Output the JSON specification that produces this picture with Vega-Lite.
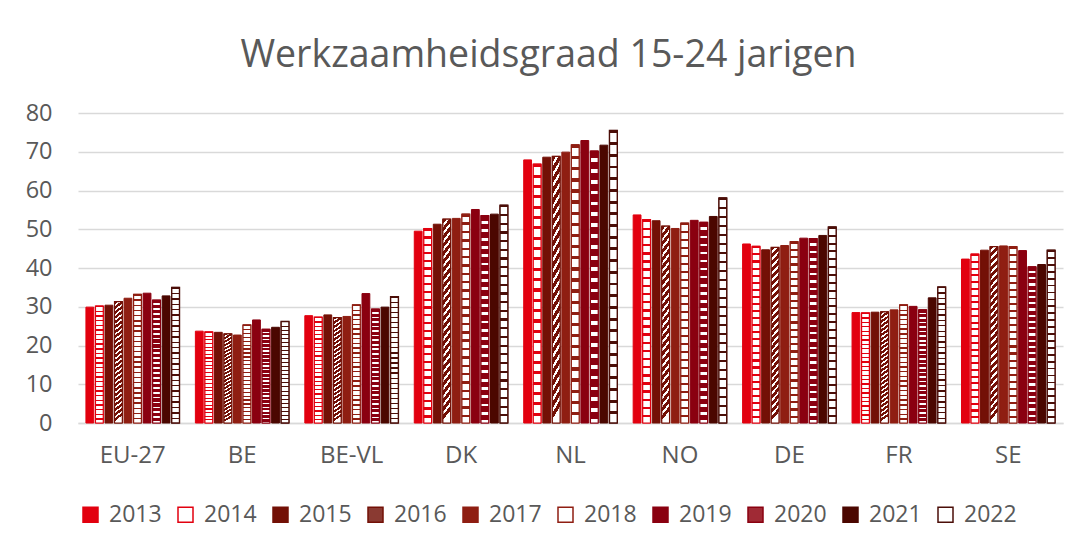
{
  "$schema": "https://vega.github.io/schema/vega-lite/v6.json",
  "width": 985,
  "height": 310,
  "autosize": {"type": "none"},
  "padding": {"left": 78, "top": 113, "right": 11, "bottom": 124},
  "background": "white",
  "title": {"text": "Werkzaamheidsgraad 15-24 jarigen", "font": "Open Sans", "fontSize": 37.5, "fontWeight": "normal", "color": "#595959", "anchor": "middle", "dx": -22, "offset": 27},
  "data": {"values": [
    {"land": "EU-27", "jaar": "2013", "waarde": 29.9}, {"land": "EU-27", "jaar": "2014", "waarde": 30.2}, {"land": "EU-27", "jaar": "2015", "waarde": 30.4}, {"land": "EU-27", "jaar": "2016", "waarde": 31.3}, {"land": "EU-27", "jaar": "2017", "waarde": 32.2}, {"land": "EU-27", "jaar": "2018", "waarde": 33.2}, {"land": "EU-27", "jaar": "2019", "waarde": 33.5}, {"land": "EU-27", "jaar": "2020", "waarde": 31.7}, {"land": "EU-27", "jaar": "2021", "waarde": 32.8}, {"land": "EU-27", "jaar": "2022", "waarde": 35.0},
    {"land": "BE", "jaar": "2013", "waarde": 23.7}, {"land": "BE", "jaar": "2014", "waarde": 23.5}, {"land": "BE", "jaar": "2015", "waarde": 23.4}, {"land": "BE", "jaar": "2016", "waarde": 23.0}, {"land": "BE", "jaar": "2017", "waarde": 22.7}, {"land": "BE", "jaar": "2018", "waarde": 25.3}, {"land": "BE", "jaar": "2019", "waarde": 26.6}, {"land": "BE", "jaar": "2020", "waarde": 24.2}, {"land": "BE", "jaar": "2021", "waarde": 24.7}, {"land": "BE", "jaar": "2022", "waarde": 26.2},
    {"land": "BE-VL", "jaar": "2013", "waarde": 27.7}, {"land": "BE-VL", "jaar": "2014", "waarde": 27.3}, {"land": "BE-VL", "jaar": "2015", "waarde": 27.9}, {"land": "BE-VL", "jaar": "2016", "waarde": 27.2}, {"land": "BE-VL", "jaar": "2017", "waarde": 27.5}, {"land": "BE-VL", "jaar": "2018", "waarde": 30.5}, {"land": "BE-VL", "jaar": "2019", "waarde": 33.4}, {"land": "BE-VL", "jaar": "2020", "waarde": 29.4}, {"land": "BE-VL", "jaar": "2021", "waarde": 29.9}, {"land": "BE-VL", "jaar": "2022", "waarde": 32.6},
    {"land": "DK", "jaar": "2013", "waarde": 49.5}, {"land": "DK", "jaar": "2014", "waarde": 50.2}, {"land": "DK", "jaar": "2015", "waarde": 51.3}, {"land": "DK", "jaar": "2016", "waarde": 52.6}, {"land": "DK", "jaar": "2017", "waarde": 52.8}, {"land": "DK", "jaar": "2018", "waarde": 53.9}, {"land": "DK", "jaar": "2019", "waarde": 55.1}, {"land": "DK", "jaar": "2020", "waarde": 53.5}, {"land": "DK", "jaar": "2021", "waarde": 53.9}, {"land": "DK", "jaar": "2022", "waarde": 56.2},
    {"land": "NL", "jaar": "2013", "waarde": 67.9}, {"land": "NL", "jaar": "2014", "waarde": 66.8}, {"land": "NL", "jaar": "2015", "waarde": 68.6}, {"land": "NL", "jaar": "2016", "waarde": 68.8}, {"land": "NL", "jaar": "2017", "waarde": 69.9}, {"land": "NL", "jaar": "2018", "waarde": 71.8}, {"land": "NL", "jaar": "2019", "waarde": 72.9}, {"land": "NL", "jaar": "2020", "waarde": 70.2}, {"land": "NL", "jaar": "2021", "waarde": 71.7}, {"land": "NL", "jaar": "2022", "waarde": 75.5},
    {"land": "NO", "jaar": "2013", "waarde": 53.7}, {"land": "NO", "jaar": "2014", "waarde": 52.5}, {"land": "NO", "jaar": "2015", "waarde": 52.2}, {"land": "NO", "jaar": "2016", "waarde": 50.8}, {"land": "NO", "jaar": "2017", "waarde": 50.2}, {"land": "NO", "jaar": "2018", "waarde": 51.6}, {"land": "NO", "jaar": "2019", "waarde": 52.3}, {"land": "NO", "jaar": "2020", "waarde": 51.8}, {"land": "NO", "jaar": "2021", "waarde": 53.3}, {"land": "NO", "jaar": "2022", "waarde": 58.1},
    {"land": "DE", "jaar": "2013", "waarde": 46.2}, {"land": "DE", "jaar": "2014", "waarde": 45.6}, {"land": "DE", "jaar": "2015", "waarde": 44.7}, {"land": "DE", "jaar": "2016", "waarde": 45.3}, {"land": "DE", "jaar": "2017", "waarde": 45.8}, {"land": "DE", "jaar": "2018", "waarde": 46.8}, {"land": "DE", "jaar": "2019", "waarde": 47.7}, {"land": "DE", "jaar": "2020", "waarde": 47.6}, {"land": "DE", "jaar": "2021", "waarde": 48.4}, {"land": "DE", "jaar": "2022", "waarde": 50.6},
    {"land": "FR", "jaar": "2013", "waarde": 28.5}, {"land": "FR", "jaar": "2014", "waarde": 28.4}, {"land": "FR", "jaar": "2015", "waarde": 28.6}, {"land": "FR", "jaar": "2016", "waarde": 28.7}, {"land": "FR", "jaar": "2017", "waarde": 29.2}, {"land": "FR", "jaar": "2018", "waarde": 30.5}, {"land": "FR", "jaar": "2019", "waarde": 30.1}, {"land": "FR", "jaar": "2020", "waarde": 29.2}, {"land": "FR", "jaar": "2021", "waarde": 32.3}, {"land": "FR", "jaar": "2022", "waarde": 35.1},
    {"land": "SE", "jaar": "2013", "waarde": 42.3}, {"land": "SE", "jaar": "2014", "waarde": 43.6}, {"land": "SE", "jaar": "2015", "waarde": 44.6}, {"land": "SE", "jaar": "2016", "waarde": 45.5}, {"land": "SE", "jaar": "2017", "waarde": 45.7}, {"land": "SE", "jaar": "2018", "waarde": 45.5}, {"land": "SE", "jaar": "2019", "waarde": 44.5}, {"land": "SE", "jaar": "2020", "waarde": 40.3}, {"land": "SE", "jaar": "2021", "waarde": 40.9}, {"land": "SE", "jaar": "2022", "waarde": 44.6}
  ]},
  "encoding": {
    "x": {"field": "land", "type": "nominal", "sort": ["EU-27", "BE", "BE-VL", "DK", "NL", "NO", "DE", "FR", "SE"], "scale": {"paddingInner": 0.145, "paddingOuter": 0.0725},
      "axis": {"title": null, "labelAngle": 0, "ticks": false, "domainColor": "#D9D9D9", "domainWidth": 1.5, "labelFont": "Open Sans", "labelFontSize": 24, "labelColor": "#595959", "labelPadding": 20}},
    "xOffset": {"field": "jaar", "type": "nominal", "scale": {"domain": ["2013","2014","2015","2016","2017","2018","2019","2020","2021","2022"], "paddingInner": 0.18, "paddingOuter": 0}},
    "y": {"field": "waarde", "type": "quantitative", "scale": {"domain": [0, 80], "nice": false},
      "axis": {"title": null, "values": [0, 10, 20, 30, 40, 50, 60, 70, 80], "domain": false, "ticks": false, "gridColor": "#D9D9D9", "gridWidth": 1.3, "labelFont": "Open Sans", "labelFontSize": 23.5, "labelColor": "#595959", "labelPadding": 26}}
  },
  "layer": [
    {
      "mark": {"type": "bar", "strokeWidth": 1},
      "encoding": {
        "fill": {"field": "jaar", "type": "nominal", "scale": {"domain": ["2013","2014","2015","2016","2017","2018","2019","2020","2021","2022"], "range": ["#E2000F","#FFFFFF","#731006","#8A3A32","#8F1E12","#FFFFFF","#8A0010","#A02A35","#4B0700","#FFFFFF"]},
          "legend": {"title": null, "orient": "none", "legendX": 1, "legendY": 390, "direction": "horizontal", "columns": 10, "symbolType": "square", "symbolSize": 225, "symbolStrokeWidth": 1.5, "labelFont": "Open Sans", "labelFontSize": 23, "labelColor": "#595959", "labelOffset": 7, "columnPadding": 12, "labelLimit": 200}},
        "stroke": {"field": "jaar", "type": "nominal", "scale": {"domain": ["2013","2014","2015","2016","2017","2018","2019","2020","2021","2022"], "range": ["#E2000F","#E2000F","#731006","#731006","#8F1E12","#8F1E12","#8A0010","#8A0010","#4B0700","#4B0E08"]},
          "legend": {"title": null, "orient": "none", "legendX": 1, "legendY": 390, "direction": "horizontal", "columns": 10, "symbolType": "square", "symbolSize": 225, "symbolStrokeWidth": 1.5, "labelFont": "Open Sans", "labelFontSize": 23, "labelColor": "#595959", "labelOffset": 7, "columnPadding": 12, "labelLimit": 200}}
      }
    },
    {
      "transform": [{"filter": "datum.jaar == '2014'"}],
      "mark": {"type": "bar", "stroke": "#E2000F", "strokeWidth": 1.2, "fill": {"gradient": "linear", "x1": 0, "y1": 0, "x2": 0, "y2": 1, "stops": [
        {"offset":0,"color":"#E2000F"},{"offset":0.012,"color":"#E2000F"},{"offset":0.012,"color":"#fff"},{"offset":0.04,"color":"#fff"},
        {"offset":0.04,"color":"#E2000F"},{"offset":0.052,"color":"#E2000F"},{"offset":0.052,"color":"#fff"},{"offset":0.08,"color":"#fff"},
        {"offset":0.08,"color":"#E2000F"},{"offset":0.092,"color":"#E2000F"},{"offset":0.092,"color":"#fff"},{"offset":0.12,"color":"#fff"},
        {"offset":0.12,"color":"#E2000F"},{"offset":0.132,"color":"#E2000F"},{"offset":0.132,"color":"#fff"},{"offset":0.16,"color":"#fff"},
        {"offset":0.16,"color":"#E2000F"},{"offset":0.172,"color":"#E2000F"},{"offset":0.172,"color":"#fff"},{"offset":0.2,"color":"#fff"},
        {"offset":0.2,"color":"#E2000F"},{"offset":0.212,"color":"#E2000F"},{"offset":0.212,"color":"#fff"},{"offset":0.24,"color":"#fff"},
        {"offset":0.24,"color":"#E2000F"},{"offset":0.252,"color":"#E2000F"},{"offset":0.252,"color":"#fff"},{"offset":0.28,"color":"#fff"},
        {"offset":0.28,"color":"#E2000F"},{"offset":0.292,"color":"#E2000F"},{"offset":0.292,"color":"#fff"},{"offset":0.32,"color":"#fff"},
        {"offset":0.32,"color":"#E2000F"},{"offset":0.332,"color":"#E2000F"},{"offset":0.332,"color":"#fff"},{"offset":0.36,"color":"#fff"},
        {"offset":0.36,"color":"#E2000F"},{"offset":0.372,"color":"#E2000F"},{"offset":0.372,"color":"#fff"},{"offset":0.4,"color":"#fff"},
        {"offset":0.4,"color":"#E2000F"},{"offset":0.412,"color":"#E2000F"},{"offset":0.412,"color":"#fff"},{"offset":0.44,"color":"#fff"},
        {"offset":0.44,"color":"#E2000F"},{"offset":0.452,"color":"#E2000F"},{"offset":0.452,"color":"#fff"},{"offset":0.48,"color":"#fff"},
        {"offset":0.48,"color":"#E2000F"},{"offset":0.492,"color":"#E2000F"},{"offset":0.492,"color":"#fff"},{"offset":0.52,"color":"#fff"},
        {"offset":0.52,"color":"#E2000F"},{"offset":0.532,"color":"#E2000F"},{"offset":0.532,"color":"#fff"},{"offset":0.56,"color":"#fff"},
        {"offset":0.56,"color":"#E2000F"},{"offset":0.572,"color":"#E2000F"},{"offset":0.572,"color":"#fff"},{"offset":0.6,"color":"#fff"},
        {"offset":0.6,"color":"#E2000F"},{"offset":0.612,"color":"#E2000F"},{"offset":0.612,"color":"#fff"},{"offset":0.64,"color":"#fff"},
        {"offset":0.64,"color":"#E2000F"},{"offset":0.652,"color":"#E2000F"},{"offset":0.652,"color":"#fff"},{"offset":0.68,"color":"#fff"},
        {"offset":0.68,"color":"#E2000F"},{"offset":0.692,"color":"#E2000F"},{"offset":0.692,"color":"#fff"},{"offset":0.72,"color":"#fff"},
        {"offset":0.72,"color":"#E2000F"},{"offset":0.732,"color":"#E2000F"},{"offset":0.732,"color":"#fff"},{"offset":0.76,"color":"#fff"},
        {"offset":0.76,"color":"#E2000F"},{"offset":0.772,"color":"#E2000F"},{"offset":0.772,"color":"#fff"},{"offset":0.8,"color":"#fff"},
        {"offset":0.8,"color":"#E2000F"},{"offset":0.812,"color":"#E2000F"},{"offset":0.812,"color":"#fff"},{"offset":0.84,"color":"#fff"},
        {"offset":0.84,"color":"#E2000F"},{"offset":0.852,"color":"#E2000F"},{"offset":0.852,"color":"#fff"},{"offset":0.88,"color":"#fff"},
        {"offset":0.88,"color":"#E2000F"},{"offset":0.892,"color":"#E2000F"},{"offset":0.892,"color":"#fff"},{"offset":0.92,"color":"#fff"},
        {"offset":0.92,"color":"#E2000F"},{"offset":0.932,"color":"#E2000F"},{"offset":0.932,"color":"#fff"},{"offset":0.96,"color":"#fff"},
        {"offset":0.96,"color":"#E2000F"},{"offset":0.972,"color":"#E2000F"},{"offset":0.972,"color":"#fff"},{"offset":1,"color":"#fff"}
      ]}}
    },
    {
      "transform": [{"filter": "datum.jaar == '2016'"}],
      "mark": {"type": "bar", "stroke": "#731006", "strokeWidth": 1.2, "fill": {"gradient": "linear", "x1": 0, "y1": 0, "x2": 0.05, "y2": 1, "stops": [
        {"offset":0,"color":"#731006"},{"offset":0.024,"color":"#731006"},{"offset":0.024,"color":"#fff"},{"offset":0.04,"color":"#fff"},
        {"offset":0.04,"color":"#731006"},{"offset":0.064,"color":"#731006"},{"offset":0.064,"color":"#fff"},{"offset":0.08,"color":"#fff"},
        {"offset":0.08,"color":"#731006"},{"offset":0.104,"color":"#731006"},{"offset":0.104,"color":"#fff"},{"offset":0.12,"color":"#fff"},
        {"offset":0.12,"color":"#731006"},{"offset":0.144,"color":"#731006"},{"offset":0.144,"color":"#fff"},{"offset":0.16,"color":"#fff"},
        {"offset":0.16,"color":"#731006"},{"offset":0.184,"color":"#731006"},{"offset":0.184,"color":"#fff"},{"offset":0.2,"color":"#fff"},
        {"offset":0.2,"color":"#731006"},{"offset":0.224,"color":"#731006"},{"offset":0.224,"color":"#fff"},{"offset":0.24,"color":"#fff"},
        {"offset":0.24,"color":"#731006"},{"offset":0.264,"color":"#731006"},{"offset":0.264,"color":"#fff"},{"offset":0.28,"color":"#fff"},
        {"offset":0.28,"color":"#731006"},{"offset":0.304,"color":"#731006"},{"offset":0.304,"color":"#fff"},{"offset":0.32,"color":"#fff"},
        {"offset":0.32,"color":"#731006"},{"offset":0.344,"color":"#731006"},{"offset":0.344,"color":"#fff"},{"offset":0.36,"color":"#fff"},
        {"offset":0.36,"color":"#731006"},{"offset":0.384,"color":"#731006"},{"offset":0.384,"color":"#fff"},{"offset":0.4,"color":"#fff"},
        {"offset":0.4,"color":"#731006"},{"offset":0.424,"color":"#731006"},{"offset":0.424,"color":"#fff"},{"offset":0.44,"color":"#fff"},
        {"offset":0.44,"color":"#731006"},{"offset":0.464,"color":"#731006"},{"offset":0.464,"color":"#fff"},{"offset":0.48,"color":"#fff"},
        {"offset":0.48,"color":"#731006"},{"offset":0.504,"color":"#731006"},{"offset":0.504,"color":"#fff"},{"offset":0.52,"color":"#fff"},
        {"offset":0.52,"color":"#731006"},{"offset":0.544,"color":"#731006"},{"offset":0.544,"color":"#fff"},{"offset":0.56,"color":"#fff"},
        {"offset":0.56,"color":"#731006"},{"offset":0.584,"color":"#731006"},{"offset":0.584,"color":"#fff"},{"offset":0.6,"color":"#fff"},
        {"offset":0.6,"color":"#731006"},{"offset":0.624,"color":"#731006"},{"offset":0.624,"color":"#fff"},{"offset":0.64,"color":"#fff"},
        {"offset":0.64,"color":"#731006"},{"offset":0.664,"color":"#731006"},{"offset":0.664,"color":"#fff"},{"offset":0.68,"color":"#fff"},
        {"offset":0.68,"color":"#731006"},{"offset":0.704,"color":"#731006"},{"offset":0.704,"color":"#fff"},{"offset":0.72,"color":"#fff"},
        {"offset":0.72,"color":"#731006"},{"offset":0.744,"color":"#731006"},{"offset":0.744,"color":"#fff"},{"offset":0.76,"color":"#fff"},
        {"offset":0.76,"color":"#731006"},{"offset":0.784,"color":"#731006"},{"offset":0.784,"color":"#fff"},{"offset":0.8,"color":"#fff"},
        {"offset":0.8,"color":"#731006"},{"offset":0.824,"color":"#731006"},{"offset":0.824,"color":"#fff"},{"offset":0.84,"color":"#fff"},
        {"offset":0.84,"color":"#731006"},{"offset":0.864,"color":"#731006"},{"offset":0.864,"color":"#fff"},{"offset":0.88,"color":"#fff"},
        {"offset":0.88,"color":"#731006"},{"offset":0.904,"color":"#731006"},{"offset":0.904,"color":"#fff"},{"offset":0.92,"color":"#fff"},
        {"offset":0.92,"color":"#731006"},{"offset":0.944,"color":"#731006"},{"offset":0.944,"color":"#fff"},{"offset":0.96,"color":"#fff"},
        {"offset":0.96,"color":"#731006"},{"offset":0.984,"color":"#731006"},{"offset":0.984,"color":"#fff"},{"offset":1,"color":"#fff"}
      ]}}
    },
    {
      "transform": [{"filter": "datum.jaar == '2018'"}],
      "mark": {"type": "bar", "stroke": "#8F1E12", "strokeWidth": 1.2, "fill": {"gradient": "linear", "x1": 0, "y1": 0, "x2": 0, "y2": 1, "stops": [
        {"offset":0,"color":"#8F1E12"},{"offset":0.012,"color":"#8F1E12"},{"offset":0.012,"color":"#fff"},{"offset":0.04,"color":"#fff"},
        {"offset":0.04,"color":"#8F1E12"},{"offset":0.052,"color":"#8F1E12"},{"offset":0.052,"color":"#fff"},{"offset":0.08,"color":"#fff"},
        {"offset":0.08,"color":"#8F1E12"},{"offset":0.092,"color":"#8F1E12"},{"offset":0.092,"color":"#fff"},{"offset":0.12,"color":"#fff"},
        {"offset":0.12,"color":"#8F1E12"},{"offset":0.132,"color":"#8F1E12"},{"offset":0.132,"color":"#fff"},{"offset":0.16,"color":"#fff"},
        {"offset":0.16,"color":"#8F1E12"},{"offset":0.172,"color":"#8F1E12"},{"offset":0.172,"color":"#fff"},{"offset":0.2,"color":"#fff"},
        {"offset":0.2,"color":"#8F1E12"},{"offset":0.212,"color":"#8F1E12"},{"offset":0.212,"color":"#fff"},{"offset":0.24,"color":"#fff"},
        {"offset":0.24,"color":"#8F1E12"},{"offset":0.252,"color":"#8F1E12"},{"offset":0.252,"color":"#fff"},{"offset":0.28,"color":"#fff"},
        {"offset":0.28,"color":"#8F1E12"},{"offset":0.292,"color":"#8F1E12"},{"offset":0.292,"color":"#fff"},{"offset":0.32,"color":"#fff"},
        {"offset":0.32,"color":"#8F1E12"},{"offset":0.332,"color":"#8F1E12"},{"offset":0.332,"color":"#fff"},{"offset":0.36,"color":"#fff"},
        {"offset":0.36,"color":"#8F1E12"},{"offset":0.372,"color":"#8F1E12"},{"offset":0.372,"color":"#fff"},{"offset":0.4,"color":"#fff"},
        {"offset":0.4,"color":"#8F1E12"},{"offset":0.412,"color":"#8F1E12"},{"offset":0.412,"color":"#fff"},{"offset":0.44,"color":"#fff"},
        {"offset":0.44,"color":"#8F1E12"},{"offset":0.452,"color":"#8F1E12"},{"offset":0.452,"color":"#fff"},{"offset":0.48,"color":"#fff"},
        {"offset":0.48,"color":"#8F1E12"},{"offset":0.492,"color":"#8F1E12"},{"offset":0.492,"color":"#fff"},{"offset":0.52,"color":"#fff"},
        {"offset":0.52,"color":"#8F1E12"},{"offset":0.532,"color":"#8F1E12"},{"offset":0.532,"color":"#fff"},{"offset":0.56,"color":"#fff"},
        {"offset":0.56,"color":"#8F1E12"},{"offset":0.572,"color":"#8F1E12"},{"offset":0.572,"color":"#fff"},{"offset":0.6,"color":"#fff"},
        {"offset":0.6,"color":"#8F1E12"},{"offset":0.612,"color":"#8F1E12"},{"offset":0.612,"color":"#fff"},{"offset":0.64,"color":"#fff"},
        {"offset":0.64,"color":"#8F1E12"},{"offset":0.652,"color":"#8F1E12"},{"offset":0.652,"color":"#fff"},{"offset":0.68,"color":"#fff"},
        {"offset":0.68,"color":"#8F1E12"},{"offset":0.692,"color":"#8F1E12"},{"offset":0.692,"color":"#fff"},{"offset":0.72,"color":"#fff"},
        {"offset":0.72,"color":"#8F1E12"},{"offset":0.732,"color":"#8F1E12"},{"offset":0.732,"color":"#fff"},{"offset":0.76,"color":"#fff"},
        {"offset":0.76,"color":"#8F1E12"},{"offset":0.772,"color":"#8F1E12"},{"offset":0.772,"color":"#fff"},{"offset":0.8,"color":"#fff"},
        {"offset":0.8,"color":"#8F1E12"},{"offset":0.812,"color":"#8F1E12"},{"offset":0.812,"color":"#fff"},{"offset":0.84,"color":"#fff"},
        {"offset":0.84,"color":"#8F1E12"},{"offset":0.852,"color":"#8F1E12"},{"offset":0.852,"color":"#fff"},{"offset":0.88,"color":"#fff"},
        {"offset":0.88,"color":"#8F1E12"},{"offset":0.892,"color":"#8F1E12"},{"offset":0.892,"color":"#fff"},{"offset":0.92,"color":"#fff"},
        {"offset":0.92,"color":"#8F1E12"},{"offset":0.932,"color":"#8F1E12"},{"offset":0.932,"color":"#fff"},{"offset":0.96,"color":"#fff"},
        {"offset":0.96,"color":"#8F1E12"},{"offset":0.972,"color":"#8F1E12"},{"offset":0.972,"color":"#fff"},{"offset":1,"color":"#fff"}
      ]}}
    },
    {
      "transform": [{"filter": "datum.jaar == '2020'"}],
      "mark": {"type": "bar", "stroke": "#8A0010", "strokeWidth": 1.2, "fill": {"gradient": "linear", "x1": 0, "y1": 0, "x2": 0, "y2": 1, "stops": [
        {"offset":0,"color":"#8A0010"},{"offset":0.026,"color":"#8A0010"},{"offset":0.026,"color":"#fff"},{"offset":0.04,"color":"#fff"},
        {"offset":0.04,"color":"#8A0010"},{"offset":0.066,"color":"#8A0010"},{"offset":0.066,"color":"#fff"},{"offset":0.08,"color":"#fff"},
        {"offset":0.08,"color":"#8A0010"},{"offset":0.106,"color":"#8A0010"},{"offset":0.106,"color":"#fff"},{"offset":0.12,"color":"#fff"},
        {"offset":0.12,"color":"#8A0010"},{"offset":0.146,"color":"#8A0010"},{"offset":0.146,"color":"#fff"},{"offset":0.16,"color":"#fff"},
        {"offset":0.16,"color":"#8A0010"},{"offset":0.186,"color":"#8A0010"},{"offset":0.186,"color":"#fff"},{"offset":0.2,"color":"#fff"},
        {"offset":0.2,"color":"#8A0010"},{"offset":0.226,"color":"#8A0010"},{"offset":0.226,"color":"#fff"},{"offset":0.24,"color":"#fff"},
        {"offset":0.24,"color":"#8A0010"},{"offset":0.266,"color":"#8A0010"},{"offset":0.266,"color":"#fff"},{"offset":0.28,"color":"#fff"},
        {"offset":0.28,"color":"#8A0010"},{"offset":0.306,"color":"#8A0010"},{"offset":0.306,"color":"#fff"},{"offset":0.32,"color":"#fff"},
        {"offset":0.32,"color":"#8A0010"},{"offset":0.346,"color":"#8A0010"},{"offset":0.346,"color":"#fff"},{"offset":0.36,"color":"#fff"},
        {"offset":0.36,"color":"#8A0010"},{"offset":0.386,"color":"#8A0010"},{"offset":0.386,"color":"#fff"},{"offset":0.4,"color":"#fff"},
        {"offset":0.4,"color":"#8A0010"},{"offset":0.426,"color":"#8A0010"},{"offset":0.426,"color":"#fff"},{"offset":0.44,"color":"#fff"},
        {"offset":0.44,"color":"#8A0010"},{"offset":0.466,"color":"#8A0010"},{"offset":0.466,"color":"#fff"},{"offset":0.48,"color":"#fff"},
        {"offset":0.48,"color":"#8A0010"},{"offset":0.506,"color":"#8A0010"},{"offset":0.506,"color":"#fff"},{"offset":0.52,"color":"#fff"},
        {"offset":0.52,"color":"#8A0010"},{"offset":0.546,"color":"#8A0010"},{"offset":0.546,"color":"#fff"},{"offset":0.56,"color":"#fff"},
        {"offset":0.56,"color":"#8A0010"},{"offset":0.586,"color":"#8A0010"},{"offset":0.586,"color":"#fff"},{"offset":0.6,"color":"#fff"},
        {"offset":0.6,"color":"#8A0010"},{"offset":0.626,"color":"#8A0010"},{"offset":0.626,"color":"#fff"},{"offset":0.64,"color":"#fff"},
        {"offset":0.64,"color":"#8A0010"},{"offset":0.666,"color":"#8A0010"},{"offset":0.666,"color":"#fff"},{"offset":0.68,"color":"#fff"},
        {"offset":0.68,"color":"#8A0010"},{"offset":0.706,"color":"#8A0010"},{"offset":0.706,"color":"#fff"},{"offset":0.72,"color":"#fff"},
        {"offset":0.72,"color":"#8A0010"},{"offset":0.746,"color":"#8A0010"},{"offset":0.746,"color":"#fff"},{"offset":0.76,"color":"#fff"},
        {"offset":0.76,"color":"#8A0010"},{"offset":0.786,"color":"#8A0010"},{"offset":0.786,"color":"#fff"},{"offset":0.8,"color":"#fff"},
        {"offset":0.8,"color":"#8A0010"},{"offset":0.826,"color":"#8A0010"},{"offset":0.826,"color":"#fff"},{"offset":0.84,"color":"#fff"},
        {"offset":0.84,"color":"#8A0010"},{"offset":0.866,"color":"#8A0010"},{"offset":0.866,"color":"#fff"},{"offset":0.88,"color":"#fff"},
        {"offset":0.88,"color":"#8A0010"},{"offset":0.906,"color":"#8A0010"},{"offset":0.906,"color":"#fff"},{"offset":0.92,"color":"#fff"},
        {"offset":0.92,"color":"#8A0010"},{"offset":0.946,"color":"#8A0010"},{"offset":0.946,"color":"#fff"},{"offset":0.96,"color":"#fff"},
        {"offset":0.96,"color":"#8A0010"},{"offset":0.986,"color":"#8A0010"},{"offset":0.986,"color":"#fff"},{"offset":1,"color":"#fff"}
      ]}}
    },
    {
      "transform": [{"filter": "datum.jaar == '2022'"}],
      "mark": {"type": "bar", "stroke": "#4B0E08", "strokeWidth": 1.4, "fill": {"gradient": "linear", "x1": 0, "y1": 0, "x2": 0, "y2": 1, "stops": [
        {"offset":0,"color":"#4B0E08"},{"offset":0.01,"color":"#4B0E08"},{"offset":0.01,"color":"#fff"},{"offset":0.04,"color":"#fff"},
        {"offset":0.04,"color":"#4B0E08"},{"offset":0.05,"color":"#4B0E08"},{"offset":0.05,"color":"#fff"},{"offset":0.08,"color":"#fff"},
        {"offset":0.08,"color":"#4B0E08"},{"offset":0.09,"color":"#4B0E08"},{"offset":0.09,"color":"#fff"},{"offset":0.12,"color":"#fff"},
        {"offset":0.12,"color":"#4B0E08"},{"offset":0.13,"color":"#4B0E08"},{"offset":0.13,"color":"#fff"},{"offset":0.16,"color":"#fff"},
        {"offset":0.16,"color":"#4B0E08"},{"offset":0.17,"color":"#4B0E08"},{"offset":0.17,"color":"#fff"},{"offset":0.2,"color":"#fff"},
        {"offset":0.2,"color":"#4B0E08"},{"offset":0.21,"color":"#4B0E08"},{"offset":0.21,"color":"#fff"},{"offset":0.24,"color":"#fff"},
        {"offset":0.24,"color":"#4B0E08"},{"offset":0.25,"color":"#4B0E08"},{"offset":0.25,"color":"#fff"},{"offset":0.28,"color":"#fff"},
        {"offset":0.28,"color":"#4B0E08"},{"offset":0.29,"color":"#4B0E08"},{"offset":0.29,"color":"#fff"},{"offset":0.32,"color":"#fff"},
        {"offset":0.32,"color":"#4B0E08"},{"offset":0.33,"color":"#4B0E08"},{"offset":0.33,"color":"#fff"},{"offset":0.36,"color":"#fff"},
        {"offset":0.36,"color":"#4B0E08"},{"offset":0.37,"color":"#4B0E08"},{"offset":0.37,"color":"#fff"},{"offset":0.4,"color":"#fff"},
        {"offset":0.4,"color":"#4B0E08"},{"offset":0.41,"color":"#4B0E08"},{"offset":0.41,"color":"#fff"},{"offset":0.44,"color":"#fff"},
        {"offset":0.44,"color":"#4B0E08"},{"offset":0.45,"color":"#4B0E08"},{"offset":0.45,"color":"#fff"},{"offset":0.48,"color":"#fff"},
        {"offset":0.48,"color":"#4B0E08"},{"offset":0.49,"color":"#4B0E08"},{"offset":0.49,"color":"#fff"},{"offset":0.52,"color":"#fff"},
        {"offset":0.52,"color":"#4B0E08"},{"offset":0.53,"color":"#4B0E08"},{"offset":0.53,"color":"#fff"},{"offset":0.56,"color":"#fff"},
        {"offset":0.56,"color":"#4B0E08"},{"offset":0.57,"color":"#4B0E08"},{"offset":0.57,"color":"#fff"},{"offset":0.6,"color":"#fff"},
        {"offset":0.6,"color":"#4B0E08"},{"offset":0.61,"color":"#4B0E08"},{"offset":0.61,"color":"#fff"},{"offset":0.64,"color":"#fff"},
        {"offset":0.64,"color":"#4B0E08"},{"offset":0.65,"color":"#4B0E08"},{"offset":0.65,"color":"#fff"},{"offset":0.68,"color":"#fff"},
        {"offset":0.68,"color":"#4B0E08"},{"offset":0.69,"color":"#4B0E08"},{"offset":0.69,"color":"#fff"},{"offset":0.72,"color":"#fff"},
        {"offset":0.72,"color":"#4B0E08"},{"offset":0.73,"color":"#4B0E08"},{"offset":0.73,"color":"#fff"},{"offset":0.76,"color":"#fff"},
        {"offset":0.76,"color":"#4B0E08"},{"offset":0.77,"color":"#4B0E08"},{"offset":0.77,"color":"#fff"},{"offset":0.8,"color":"#fff"},
        {"offset":0.8,"color":"#4B0E08"},{"offset":0.81,"color":"#4B0E08"},{"offset":0.81,"color":"#fff"},{"offset":0.84,"color":"#fff"},
        {"offset":0.84,"color":"#4B0E08"},{"offset":0.85,"color":"#4B0E08"},{"offset":0.85,"color":"#fff"},{"offset":0.88,"color":"#fff"},
        {"offset":0.88,"color":"#4B0E08"},{"offset":0.89,"color":"#4B0E08"},{"offset":0.89,"color":"#fff"},{"offset":0.92,"color":"#fff"},
        {"offset":0.92,"color":"#4B0E08"},{"offset":0.93,"color":"#4B0E08"},{"offset":0.93,"color":"#fff"},{"offset":0.96,"color":"#fff"},
        {"offset":0.96,"color":"#4B0E08"},{"offset":0.97,"color":"#4B0E08"},{"offset":0.97,"color":"#fff"},{"offset":1,"color":"#fff"}
      ]}}
    }
  ],
  "config": {"view": {"stroke": null}}
}
